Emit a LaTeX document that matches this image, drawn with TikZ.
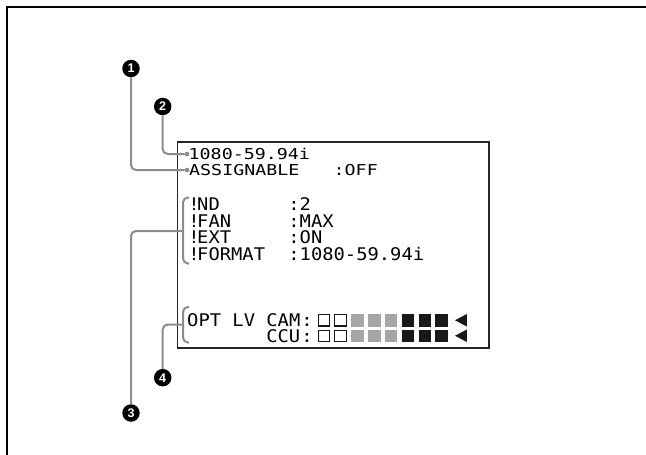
\documentclass[tikz,border=0pt]{standalone}
\usepackage{fontspec}
\setmainfont{Liberation Sans}
\newfontfamily\lcdtop[FakeStretch=1.22]{DejaVu Sans Mono}
\newfontfamily\lcdlow[FakeStretch=1.08]{DejaVu Sans Mono}
\begin{document}
\begin{tikzpicture}[x=1pt,y=-1pt,
  leader/.style={draw=black!45, line width=2pt},
  num/.style={circle, fill=black, text=white, font=\bfseries\fontsize{12.5}{12.5}\selectfont, minimum size=17.5pt, inner sep=0pt},
  dotmark/.style={circle, fill=black!45, minimum size=4.6pt, inner sep=0pt},
  toptxt/.style={anchor=base west, inner sep=0pt, font=\lcdtop\fontsize{15}{15}\selectfont},
  lowtxt/.style={anchor=base west, inner sep=0pt, font=\lcdlow\fontsize{17.4}{17.4}\selectfont},
  lowc/.style={anchor=base, inner sep=0pt, font=\lcdlow\fontsize{17.4}{17.4}\selectfont},
  sqw/.style={draw=black!90, line width=1.1pt, fill=white, minimum size=11.4pt, inner sep=0pt},
  sqg/.style={fill=black!35, minimum size=12.5pt, inner sep=0pt},
  sqb/.style={fill=black!90, minimum size=12.5pt, inner sep=0pt},
  ]
\useasboundingbox (0,0) rectangle (646,455);
\fill[white] (0,0) rectangle (646,455);
\draw[line width=2pt] (7,455) -- (7,7) -- (646,7);
\node[draw=black!85, line width=1.5pt, minimum width=311.5pt, minimum height=206pt, inner sep=0pt, anchor=north west] (screen) at (176.5,141) {};

% top text
\node[toptxt] (t1) at (188.5,159) {1080-59.94i};
\node[toptxt] (t2) at (189,175.5) {ASSIGNABLE};
\node[toptxt] (t3) at (333.5,175.5) {:OFF};

% lower block
\foreach \y/\lab/\val [count=\i] in {210.5/ND/2, 227/FAN/MAX, 243.5/EXT/ON, 260/FORMAT/1080-59.94i} {
  \node[lowc] (ex\i) at (194,\y) {!};
  \node[lowtxt] (lab\i) at (197,\y) {\lab};
  \node[lowc] (col\i) at (294,\y) {:};
  \node[lowtxt] (val\i) at (299.5,\y) {\val};
}
\node[lowtxt] (opt) at (187,326) {OPT LV CAM};
\node[lowtxt] (ccu) at (266.1,342.5) {CCU};
\node[lowc] (colcam) at (307,326) {:};
\node[lowc] (colccu) at (307,342.5) {:};

\foreach \k/\s in {0/sqw,1/sqw,2/sqg,3/sqg,4/sqg,5/sqb,6/sqb,7/sqb} {
  \node[\s] (cam\k) at ({323.75+16.85*\k},320.25) {};
  \node[\s] (ccu\k) at ({323.75+16.85*\k},335.75) {};
}
\fill[black!90] (466.8,314) -- (466.8,326.5) -- (455,320.25) -- cycle;
\fill[black!90] (466.8,329.5) -- (466.8,342) -- (455,335.75) -- cycle;

% brackets
\draw[leader, rounded corners=5pt] (189,197.5) -- (183,197.5) -- (183,263.5) -- (189,263.5);
\draw[leader, rounded corners=5pt] (189,307) -- (183,307) -- (183,342.5) -- (189,342.5);
\coordinate (b3) at (183,231);
\coordinate (b4) at (183,324.5);

% markers
\node[dotmark] (d2) at (187,154) {};
\node[dotmark] (d1) at (187,170) {};
\node[num] (n1) at (131,68.5) {1};
\node[num] (n2) at (162.7,106.5) {2};
\node[num] (n3) at (131,413) {3};
\node[num] (n4) at (162.7,377.7) {4};

\draw[leader, rounded corners=5pt] (n1) |- (d1);
\draw[leader, rounded corners=5pt] (n2) |- (d2);
\draw[leader, rounded corners=5pt] (n3) |- (b3);
\draw[leader, rounded corners=5pt] (n4) |- (b4);
\end{tikzpicture}
\end{document}
